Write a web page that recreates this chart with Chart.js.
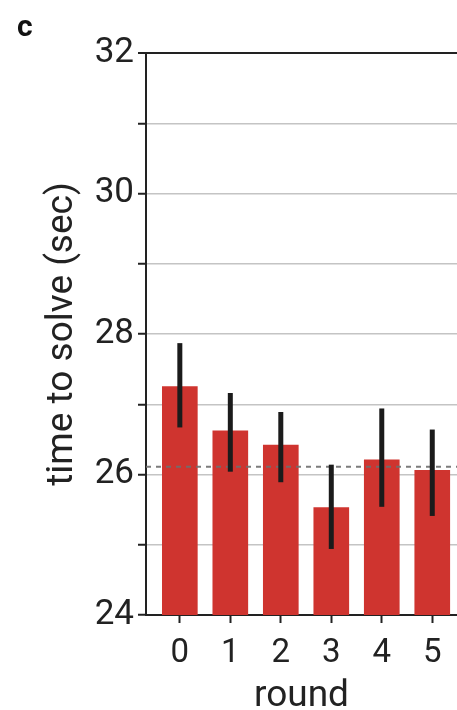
<!DOCTYPE html>
<html>
<head>
<meta charset="utf-8">
<script src="https://cdn.jsdelivr.net/npm/chart.js@4.4.1/dist/chart.umd.min.js"></script>
<style>
  html, body { margin: 0; padding: 0; background: #fff; overflow: hidden; }
  #wrap { position: relative; width: 457px; height: 710px; }
  #panel { position: absolute; left: 17px; top: 8px; font: bold 30px Roboto, sans-serif; color: #111; }
</style>
</head>
<body>
<div id="wrap">
  <canvas id="chart_round" width="457" height="710"></canvas>
  <div id="panel">c</div>
</div>
<script>
var rounds = [0, 1, 2, 3, 4, 5];
var solveTime = [27.25, 26.62, 26.42, 25.53, 26.21, 26.06];
var errLow = [26.67, 26.04, 25.89, 24.94, 25.54, 25.41];
var errHigh = [27.87, 27.16, 26.89, 26.14, 26.94, 26.64];
var baseline = 26.11;
var yTicks = [24, 25, 26, 27, 28, 29, 30, 31, 32];

// dashed reference line + error bars, drawn over the bars
var overlay = {
    id: 'overlay',
    afterDatasetsDraw: function(chart) {
        const ctx = chart.ctx;
        const x = chart.scales.x, y = chart.scales.y;
        const area = chart.chartArea;
        ctx.save();
        ctx.strokeStyle = 'rgba(110,110,110,0.9)';
        ctx.lineWidth = 2;
        ctx.setLineDash([5, 5]);
        ctx.beginPath();
        ctx.moveTo(area.left, y.getPixelForValue(baseline));
        ctx.lineTo(area.right, y.getPixelForValue(baseline));
        ctx.stroke();
        ctx.setLineDash([]);
        ctx.strokeStyle = '#1b1b1b';
        ctx.lineWidth = 5;
        rounds.forEach(function(r, i) {
            const px = x.getPixelForValue(r);
            ctx.beginPath();
            ctx.moveTo(px, y.getPixelForValue(errLow[i]));
            ctx.lineTo(px, y.getPixelForValue(errHigh[i]));
            ctx.stroke();
        });
        ctx.restore();
    }
};

window.roundChart = new Chart(document.getElementById('chart_round'), {
    type: 'bar',
    data: {
        datasets: [
            {
                label: 'time to solve',
                data: rounds.map(function(r, i){ return {x: r, y: solveTime[i]}; }),
                backgroundColor: 'rgb(207, 52, 47)',
                barThickness: 35
            }
        ]
    },
    options: {
        responsive: false,
        animation: false,
        layout: { padding: { top: 53, right: 0, left: 0, bottom: 0 } },
        plugins: {
            legend: { display: false },
            tooltip: { enabled: false }
        },
        scales: {
            x: {
                type: 'linear',
                offset: false,
                min: -0.67,
                max: 5.49,
                afterBuildTicks: function(scale) {
                    scale.ticks = rounds.map(function(v){ return {value: v}; });
                },
                afterFit: function(scale) { scale.height = 95; },
                grid: { offset: false, drawOnChartArea: false, tickLength: 8, tickColor: '#222', tickWidth: 2 },
                border: { color: '#222', width: 2 },
                ticks: {
                    color: '#222',
                    font: { family: 'Roboto', size: 33 },
                    padding: 11,
                    maxRotation: 0,
                    autoSkip: false
                },
                title: {
                    display: true,
                    text: 'round',
                    color: '#222',
                    font: { family: 'Roboto', size: 37 },
                    padding: { top: 0, bottom: -9 }
                }
            },
            y: {
                min: 24,
                max: 32,
                afterBuildTicks: function(scale) {
                    scale.ticks = yTicks.map(function(v){ return {value: v}; });
                },
                afterFit: function(scale) { scale.width = 146; },
                grid: {
                    color: function(c) { return c.tick && c.tick.value === 32 ? '#222' : '#c4c4c4'; },
                    lineWidth: function(c) { return c.tick && c.tick.value === 32 ? 2 : 1.5; },
                    tickColor: '#222',
                    tickWidth: 2,
                    tickLength: 8
                },
                border: { color: '#222', width: 2 },
                ticks: {
                    color: '#222',
                    font: { family: 'Roboto', size: 35 },
                    padding: 4,
                    callback: function(v) { return v % 2 === 0 ? v : ''; }
                },
                title: {
                    display: true,
                    text: 'time to solve (sec)',
                    color: '#222',
                    font: { family: 'Roboto', size: 37 },
                    padding: { top: 41, bottom: 0 }
                }
            }
        }
    },
    plugins: [overlay]
});
</script>
</body>
</html>
